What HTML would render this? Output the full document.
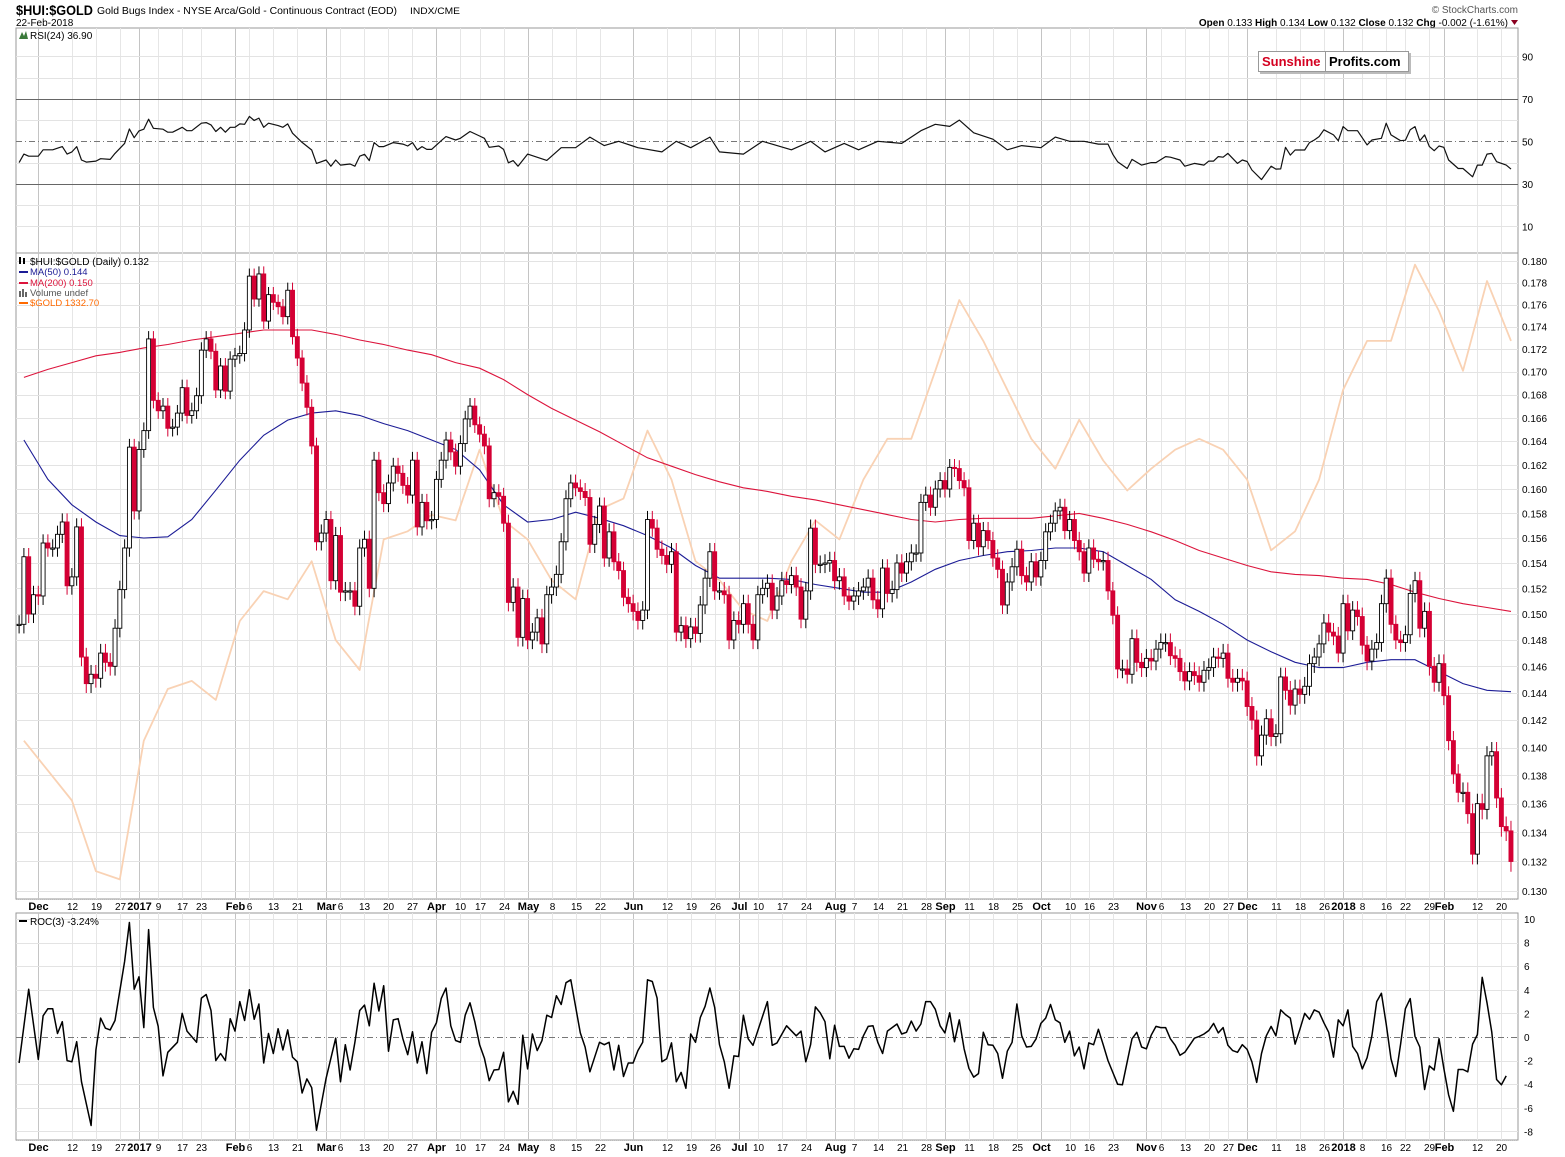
<!DOCTYPE html>
<html><head><meta charset="utf-8"><title>$HUI:$GOLD chart</title>
<style>
html,body{margin:0;padding:0;background:#fff;}
#wrap{position:relative;width:1565px;height:1157px;overflow:hidden;font-family:"Liberation Sans",sans-serif;}
svg text{font-family:"Liberation Sans",sans-serif;}
</style></head>
<body>
<div id="wrap">
<svg id="chart" width="1565" height="1157" viewBox="0 0 1565 1157" xmlns="http://www.w3.org/2000/svg">
  <rect x="0" y="0" width="1565" height="1157" fill="#fff"/>
  <text x="16" y="15" font-size="14" font-weight="bold" fill="#000" textLength="77" lengthAdjust="spacingAndGlyphs">$HUI:$GOLD</text>
  <text x="97" y="14" font-size="10.5" fill="#000" textLength="300" lengthAdjust="spacingAndGlyphs">Gold Bugs Index - NYSE Arca/Gold - Continuous Contract (EOD)</text>
  <text x="410" y="14" font-size="9.5" fill="#000" textLength="50" lengthAdjust="spacingAndGlyphs">INDX/CME</text>
  <text x="16" y="26" font-size="10" fill="#000">22-Feb-2018</text>
  <text x="1518" y="13" font-size="10" fill="#555" text-anchor="end">© StockCharts.com</text>
  <text x="1508" y="26" font-size="10" fill="#000" text-anchor="end"><tspan font-weight="bold">Open</tspan> 0.133  <tspan font-weight="bold">High</tspan> 0.134  <tspan font-weight="bold">Low</tspan> 0.132  <tspan font-weight="bold">Close</tspan> 0.132  <tspan font-weight="bold">Chg</tspan> -0.002 (-1.61%)</text>
  <path d="M1511 20 L1518 20 L1514.5 25 Z" fill="#8b0020"/>
  <g id="grid"></g>
  <g id="series"></g>
  <g id="overlay"></g>
</svg>
</div>
<script>
// ---------- DATA ----------
const closes = [
0.1492,0.1545,0.1500,0.1515,0.1514,0.1556,0.1552,0.1552,0.1563,0.1573,
0.1522,0.1529,0.1569,0.1467,0.1447,0.1454,0.1451,0.1470,0.1463,0.1460,
0.1489,0.1519,0.1552,0.1635,0.1582,0.1633,0.1649,0.1729,0.1675,0.1666,
0.1670,0.1651,0.1652,0.1664,0.1686,0.1662,0.1666,0.1679,0.1719,0.1729,
0.1718,0.1684,0.1705,0.1683,0.1711,0.1714,0.1716,0.1737,0.1786,0.1765,
0.1788,0.1745,0.1769,0.1762,0.1758,0.1749,0.1773,0.1731,0.1712,0.1690,
0.1669,0.1636,0.1557,0.1564,0.1575,0.1526,0.1562,0.1517,0.1518,0.1518,
0.1506,0.1552,0.1559,0.1520,0.1624,0.1597,0.1588,0.1605,0.1619,0.1613,
0.1603,0.1595,0.1624,0.1569,0.1589,0.1574,0.1575,0.1608,0.1624,0.1641,
0.1631,0.1619,0.1638,0.1659,0.1670,0.1654,0.1646,0.1636,0.1592,0.1597,
0.1594,0.1572,0.1509,0.1521,0.1482,0.1512,0.1480,0.1486,0.1497,0.1477,
0.1515,0.1521,0.1531,0.1557,0.1592,0.1605,0.1601,0.1598,0.1593,0.1555,
0.1571,0.1586,0.1544,0.1565,0.1541,0.1534,0.1513,0.1508,0.1502,0.1495,
0.1503,0.1575,0.1568,0.1551,0.1546,0.1539,0.1549,0.1486,0.1491,0.1481,
0.1490,0.1485,0.1507,0.1528,0.1549,0.1518,0.1518,0.1515,0.1480,0.1495,
0.1492,0.1508,0.1492,0.1480,0.1515,0.1520,0.1524,0.1503,0.1514,0.1526,
0.1523,0.1530,0.1521,0.1496,0.1518,0.1568,0.1539,0.1539,0.1540,0.1542,
0.1526,0.1529,0.1514,0.1510,0.1514,0.1518,0.1521,0.1528,0.1511,0.1504,
0.1536,0.1516,0.1519,0.1540,0.1532,0.1541,0.1548,0.1548,0.1589,0.1595,
0.1585,0.1600,0.1607,0.1600,0.1618,0.1617,0.1607,0.1601,0.1558,0.1572,
0.1553,0.1566,0.1558,0.1544,0.1535,0.1507,0.1525,0.1537,0.1551,0.1530,
0.1525,0.1541,0.1529,0.1542,0.1565,0.1572,0.1582,0.1585,0.1566,0.1575,
0.1558,0.1549,0.1532,0.1552,0.1543,0.1541,0.1542,0.1518,0.1499,0.1458,
0.1458,0.1454,0.1481,0.1463,0.1459,0.1466,0.1464,0.1473,0.1478,0.1478,
0.1468,0.1466,0.1456,0.1449,0.1456,0.1453,0.1448,0.1457,0.1459,0.1467,
0.1466,0.1470,0.1451,0.1448,0.1451,0.1449,0.1430,0.1420,0.1394,0.1409,
0.1421,0.1408,0.1410,0.1452,0.1442,0.1431,0.1443,0.1439,0.1445,0.1462,
0.1467,0.1477,0.1493,0.1486,0.1483,0.1470,0.1508,0.1487,0.1503,0.1498,
0.1476,0.1464,0.1473,0.1478,0.1508,0.1528,0.1492,0.1480,0.1478,0.1484,
0.1516,0.1526,0.1489,0.1502,0.1460,0.1448,0.1462,0.1438,0.1405,0.1381,
0.1368,0.1368,0.1353,0.1325,0.1360,0.1356,0.1394,0.1397,0.1364,0.1344,
0.1341,0.1320];

const ma50 = [0.1641,0.1608,0.1587,0.1573,0.1562,0.1560,0.1561,0.1575,0.1599,0.1624,0.1645,0.1658,0.1664,0.1666,0.1662,0.1655,0.1649,0.1641,0.1633,0.1616,0.1587,0.1573,0.1575,0.1581,0.1576,0.1570,0.1562,0.1552,0.1538,0.1528,0.1528,0.1528,0.1527,0.1523,0.1520,0.1517,0.1517,0.1525,0.1535,0.1542,0.1546,0.1549,0.1550,0.1552,0.1552,0.1549,0.1538,0.1527,0.1511,0.1502,0.1492,0.1480,0.1471,0.1463,0.1459,0.1459,0.1463,0.1465,0.1465,0.1456,0.1447,0.1442,0.1441];
const ma200 = [0.1695,0.1702,0.1708,0.1714,0.1717,0.1721,0.1724,0.1728,0.1731,0.1734,0.1737,0.1737,0.1737,0.1733,0.1728,0.1724,0.1719,0.1715,0.1708,0.1703,0.1693,0.1680,0.1668,0.1658,0.1648,0.1637,0.1626,0.1619,0.1612,0.1606,0.1601,0.1598,0.1594,0.1591,0.1587,0.1583,0.1579,0.1575,0.1573,0.1575,0.1576,0.1576,0.1576,0.1578,0.1580,0.1576,0.1571,0.1565,0.1558,0.1550,0.1544,0.1538,0.1533,0.1531,0.1530,0.1528,0.1527,0.1523,0.1517,0.1512,0.1508,0.1505,0.1502];
const gold = [1184,1173,1162,1136,1133,1184,1203,1206,1199,1228,1239,1236,1250,1221,1210,1258,1261,1267,1265,1291,1265,1258,1243,1236,1269,1273,1298,1280,1250,1243,1232,1228,1250,1265,1258,1280,1295,1295,1320,1346,1331,1313,1295,1284,1302,1287,1276,1284,1291,1295,1291,1280,1254,1261,1280,1313,1331,1331,1359,1342,1320,1353,1331];
const sampleDays = Array.from({length: 63}, (_, k) => 1 + 5 * k);

const rsiDays = [0,1,2,4,5,7,9,10,11,12,13,14,16,17,19,20,22,23,24,25,26,27,28,30,31,32,34,35,36,38,39,40,41,42,43,44,45,46,47,48,49,50,51,52,54,55,56,57,59,61,62,64,65,66,67,69,70,71,72,73,74,75,76,78,80,81,82,83,84,85,86,88,89,91,92,94,96,97,98,100,101,102,103,104,106,110,113,116,119,122,125,129,134,137,140,144,146,151,155,161,165,168,172,175,179,184,188,191,194,196,199,203,206,209,213,216,219,222,225,227,228,229,231,232,234,236,237,239,240,242,243,245,247,248,249,250,251,252,254,255,256,257,259,261,262,263,264,265,266,268,269,270,271,272,274,275,276,277,279,281,282,284,285,286,288,289,290,291,292,293,294,295,296,297,298,300,301,303,304,305,306,307,308,310,311];
const rsiVals = [40,44,43,43,46,46,47.5,44,45,47.5,41.2,40.2,40.7,41.8,41.5,44.3,49,55.8,51.7,54.9,55.7,60.4,56.1,55.7,54.3,54.3,56.6,55,55,58.5,58.8,57.7,54.6,56.6,54.3,56.6,56.6,58.2,58,61.7,59.8,60.9,56.6,58.5,57.4,56.6,58.2,53.8,49.5,45.9,39.6,41.2,38.3,41.2,38.8,39.3,38.3,43,43.9,40.9,49.4,47.5,47.5,49.4,48.7,47.8,49.4,45.9,47.5,46.2,46.2,50.3,52.2,50.6,51.4,54.6,52.5,51.4,47.2,47.8,46.2,39.9,40.9,38.3,44,41,47,47,52,48,50,47,45,50,47,52,45,44,50,46,50,45,49,46,50,49,55,58,57,60,54,51,46,48,47,52,50,50,48.7,48.7,43.9,40.4,37.2,41.5,38.8,40,40,42.8,42.5,41.2,38.3,39.6,38.8,40.7,40.7,42.8,42.5,44.3,39.6,41.2,40.5,36.5,32,38.3,36.9,37,47.2,43.5,45.9,45.9,49.4,50.6,52.2,55.4,53,50.3,56.9,55,55,48.3,50.6,51.4,58.5,53,50.3,50.5,55.4,56.9,50.3,53,47.5,45.6,47.8,47.2,41.2,37.2,37.2,33.3,38.8,38.8,44,44.3,40.4,38.8,36.9];

const rocDays = [0,2,4,5,6,7,8,9,10,11,12,13,15,16,17,18,19,20,22,23,24,25,26,27,28,29,30,31,33,34,35,37,38,39,40,41,42,43,44,45,46,47,48,49,50,51,52,53,54,55,56,57,58,59,60,61,62,64,66,67,68,69,70,71,72,73,74,75,76,77,78,79,80,81,82,83,84,85,86,87,88,89,90,91,92,93,94,95,96,97,98,99,100,101,102,103,104,105,106,107,108,109,110,111,112,113,114,115,117,118,119,121,122,123,124,125,126,127,128,129,130,131,132,133,134,135,136,137,138,139,140,141,142,143,144,145,146,147,148,149,150,151,152,153,156,157,158,160,162,163,164,165,166,167,168,169,170,171,172,173,174,175,176,177,178,179,180,181,183,184,185,186,187,188,189,190,191,192,193,194,195,196,197,198,199,200,201,202,203,204,205,206,207,208,209,210,211,212,213,214,215,216,217,218,219,220,221,222,223,224,225,226,227,228,229,230,231,232,233,234,235,236,237,238,239,240,241,242,243,244,245,246,247,248,249,250,251,252,253,254,255,256,257,258,259,260,261,262,263,264,265,266,267,268,269,270,271,272,273,274,275,276,277,278,279,280,281,282,283,284,285,286,287,288,289,290,291,292,293,294,295,296,297,298,299,300,301,302,303,304,305,306,307,308,309,310,311];
const rocVals = [-2.2,4.05,-1.9,1.8,2.4,2.4,0.3,1.3,-2.0,-2.1,-0.4,-3.8,-7.5,-1.1,1.6,0.75,0.6,1.4,6.4,9.7,4.05,5.1,0.8,9.1,2.5,0.9,-3.3,-1.3,-0.45,2.0,0.5,-0.45,3.3,3.6,2.25,-2.0,-1.4,-2.0,1.55,0.5,3.0,1.4,4.0,1.5,2.8,-2.2,0.3,-1.4,0.7,-1.1,0.6,-1.7,-2.1,-4.75,-3.55,-4.3,-7.9,-3.5,-0.1,-3.8,-0.65,-2.8,-0.45,2.25,2.7,0.95,4.55,2.2,4.35,-1.2,1.45,1.55,-0.15,-1.5,0.45,-2.2,-0.4,-3.1,0.4,1.2,3.25,4.15,0.95,-0.3,-0.45,1.85,2.9,1.3,-0.65,-1.8,-3.7,-2.8,-2.75,-1.3,-5.5,-4.6,-5.7,0.15,-2.7,0.25,-1.15,-0.3,1.85,1.65,3.5,2.75,4.6,4.85,0.35,-0.85,-2.95,-0.45,-0.65,-0.45,-2.8,-0.7,-3.35,-2.2,-2.2,-1.15,-0.45,4.85,4.7,3.3,-2.1,-1.85,-0.5,-3.8,-3.0,-4.35,0.25,-0.45,1.65,2.6,4.15,2.5,-0.65,-2.1,-4.35,-1.6,-1.65,1.85,-0.15,-0.7,3.0,-0.7,-0.5,0.95,0.1,0.5,-2.1,-0.65,2.55,2.05,1.3,-1.85,1.0,-0.8,-0.8,-1.8,-1.0,-1.05,0.1,0.9,0.95,-0.45,-1.4,0.5,1.1,0.25,0.4,1.35,0.5,1.1,3.0,3.0,2.35,0.95,0.35,2.05,-0.4,1.45,-1.0,-2.65,-3.4,-3.1,0.4,-0.65,-0.7,-1.4,-3.5,-1.2,-0.45,2.8,0.1,-0.85,-0.8,-0.15,1.15,1.6,2.75,1.45,1.2,-0.45,0.5,-1.6,-0.85,-2.7,-0.5,-0.65,0.65,-0.65,-2.0,-3.0,-4.0,-4.05,-2.1,-0.15,0.4,-0.85,-1.0,0.15,0.9,0.8,0.8,-0.15,-0.7,-1.55,-1.3,-0.7,-0.1,0.05,0.25,0.55,1.15,0.35,0.8,-0.7,-1.15,-1.3,-0.65,-1.05,-2.1,-3.85,-1.4,0.1,0.9,0.1,2.3,1.9,1.6,-0.6,0.65,2.0,1.5,2.3,2.1,1.2,0.4,-1.7,1.45,0.95,2.3,-0.8,-1.4,-2.7,-1.75,0.1,3.0,3.7,1.1,-1.85,-3.35,-0.6,2.4,3.25,0.05,-0.85,-4.45,-2.45,-2.8,-0.15,-2.65,-4.9,-6.3,-2.75,-2.75,-2.95,-0.6,0.2,5.05,2.9,0.4,-3.6,-4.05,-3.3];

const axisLabels = ["Dec","12","19","27","2017","9","17","23","Feb","6","13","21","Mar","6","13","20","27","Apr","10","17","24","May","8","15","22","Jun","12","19","26","Jul","10","17","24","Aug","7","14","21","28","Sep","11","18","25","Oct","10","16","23","Nov","6","13","20","27","Dec","11","18","26","2018","8","16","22","29","Feb","12","20"];
const axisDays = [4,11,16,21,25,29,34,38,45,48,53,58,64,67,72,77,82,87,92,96,101,106,111,116,121,128,135,140,145,150,154,159,164,170,174,179,184,189,193,198,203,208,213,219,223,228,235,238,243,248,252,256,262,267,272,276,280,285,289,294,297,304,309];
const axisMajor = [1,0,0,0,1,0,0,0,1,0,0,0,1,0,0,0,0,1,0,0,0,1,0,0,0,1,0,0,0,1,0,0,0,1,0,0,0,0,1,0,0,0,1,0,0,0,1,0,0,0,0,1,0,0,0,1,0,0,0,0,1,0,0];

const priceTicks = [0.130,0.132,0.134,0.136,0.138,0.140,0.142,0.144,0.146,0.148,0.150,0.152,0.154,0.156,0.158,0.160,0.162,0.164,0.166,0.168,0.170,0.172,0.174,0.176,0.178,0.180];
const rsiTicks = [90,70,50,30,10];
const rocTicks = [10,8,6,4,2,0,-2,-4,-6,-8];

// ---------- SCALES ----------
const L = 16, R = 1518;
const xOf = i => 19.1 + i * 4.797;
const yP = p => 261 + 1936 * Math.log(0.18 / p);
const yG = g => 893 - (g - 1128) / 232 * 631;
const yR = v => 141.3 - (v - 50) * 2.125;
const yC = v => 1037 - v * 11.8;

const NS = 'http://www.w3.org/2000/svg';
const gridG = document.getElementById('grid');
const serG = document.getElementById('series');
const ovG = document.getElementById('overlay');
function mk(tag, attrs, parent) {
  const e = document.createElementNS(NS, tag);
  for (const k in attrs) e.setAttribute(k, attrs[k]);
  parent.appendChild(e);
  return e;
}

// ---------- PANEL FRAMES ----------
const panels = [[28,253,'rsi-panel'],[253,899,'price-panel'],[913,1140,'roc-panel']];
panels.forEach(p => {
  const r = mk('rect', {x: L, y: p[0], width: R - L, height: p[1] - p[0], fill: '#fff', stroke: '#999', 'stroke-width': 1}, gridG);
  
  
});

[[899,913],[1140,1157]].forEach(band => {
  const bl = mk('line', {x1: L, x2: R, y1: band[0] + 0.5, y2: band[0] + 0.5, stroke: '#bbb', 'stroke-dasharray': '1,1'}, gridG);
  
  
});
axisDays.forEach((d, k) => {
  const x = Math.round(xOf(d)) + 0.5;
  const col = axisMajor[k] ? '#c4c4c4' : '#e6e6e6';
  [[28,253],[253,899],[913,1140]].forEach(p => {
    const ln = mk('line', {x1: x, x2: x, y1: p[0], y2: p[1], stroke: col, 'stroke-width': 1}, gridG);
    
    
  });
  [910, 1151].forEach(yy => {
    const t = mk('text', {x: x, y: yy, 'font-size': axisMajor[k] ? 11 : 10, 'font-weight': axisMajor[k] ? 'bold' : 'normal', 'text-anchor': 'middle', fill: '#000'}, ovG);
    t.textContent = axisLabels[k];
    
    
  });
});

for (let v = 10; v <= 90; v += 10) {
  const y = Math.round(yR(v)) + 0.5;
  let attrs = {x1: L, x2: R, y1: y, y2: y, stroke: '#e3e3e3', 'stroke-width': 1};
  if (v === 70 || v === 30) attrs = {x1: L, x2: R, y1: y, y2: y, stroke: '#666', 'stroke-width': 1};
  if (v === 50) attrs = {x1: L, x2: R, y1: y, y2: y, stroke: '#777', 'stroke-width': 1, 'stroke-dasharray': '6,3,1,3'};
  const ln = mk('line', attrs, gridG);
  
  
}
rsiTicks.forEach(v => {
  const t = mk('text', {x: 1522, y: yR(v) + 4, 'font-size': 10, fill: '#000'}, ovG);
  t.textContent = String(v);
  
  
});

priceTicks.forEach(p => {
  const y = Math.round(yP(p)) + 0.5;
  const ln = mk('line', {x1: L, x2: R, y1: y, y2: y, stroke: '#e3e3e3', 'stroke-width': 1}, gridG);
  
  
  const t = mk('text', {x: 1522, y: yP(p) + 4, 'font-size': 10, fill: '#000'}, ovG);
  t.textContent = p.toFixed(3);
  
  
});

rocTicks.forEach(v => {
  const y = Math.round(yC(v)) + 0.5;
  const attrs = v === 0 ? {x1: L, x2: R, y1: y, y2: y, stroke: '#777', 'stroke-dasharray': '6,3,1,3'} : {x1: L, x2: R, y1: y, y2: y, stroke: '#e3e3e3'};
  const ln = mk('line', attrs, gridG);
  
  
  const t = mk('text', {x: 1524, y: yC(v) + 4, 'font-size': 10, fill: '#000'}, ovG);
  t.textContent = String(v);
  
  
});

// ---------- SERIES ----------
function polyline(days, vals, yfn, attrs, name) {
  const pts = days.map((d, k) => xOf(d).toFixed(1) + ',' + yfn(vals[k]).toFixed(1)).join(' ');
  const p = mk('polyline', Object.assign({points: pts, fill: 'none'}, attrs), serG);
  
  
  return p;
}

polyline(sampleDays, gold, yG, {stroke: '#f9d2b4', 'stroke-width': 1.8, 'stroke-linejoin': 'round'}, 'gold-price-line');
polyline(sampleDays, ma200, yP, {stroke: '#dc143c', 'stroke-width': 1.1}, 'ma200-line');
polyline(sampleDays, ma50, yP, {stroke: '#1c1c96', 'stroke-width': 1.1}, 'ma50-line');

const WICK = 0.0007;
closes.forEach((c, i) => {
  const o = i === 0 ? c : closes[i - 1];
  const up = c >= o;
  const x = xOf(i);
  const hi = Math.max(o, c) + WICK, lo = Math.min(o, c) - WICK;
  const w = mk('line', {x1: x, x2: x, y1: yP(hi), y2: yP(lo), stroke: up ? '#000' : '#d40034', 'stroke-width': 1}, serG);
  
  
  const y1 = yP(Math.max(o, c)), y2 = yP(Math.min(o, c));
  const b = mk('rect', {x: x - 2, y: y1, width: 4, height: Math.max(1.2, y2 - y1), fill: up ? '#fff' : '#d40034', stroke: up ? '#000' : '#d40034', 'stroke-width': 0.9}, serG);
  
  
});

polyline(rsiDays, rsiVals, yR, {stroke: '#111', 'stroke-width': 1.2, 'stroke-linejoin': 'round'}, 'rsi-line');
polyline(rocDays, rocVals, yC, {stroke: '#000', 'stroke-width': 1.5, 'stroke-linejoin': 'round'}, 'roc-line');

// ---------- LEGENDS ----------
function legendText(x, y, txt, col, name, size) {
  const t = mk('text', {x: x, y: y, 'font-size': size || 9.5, fill: col}, ovG);
  t.textContent = txt;
  
  
  return t;
}
legendText(30, 39, 'RSI(24) 36.90', '#000', 'rsi-legend', 10);
const rsiIcon = mk('path', {d: 'M19 39 L22 32 L24 36 L26 31 L28 39 Z', fill: '#3a7a3a'}, ovG);



legendText(30, 265, '$HUI:$GOLD (Daily) 0.132', '#000', 'price-legend', 10);
legendText(30, 275, 'MA(50) 0.144', '#1c1c96', 'ma50-legend');
legendText(30, 286, 'MA(200) 0.150', '#dc143c', 'ma200-legend');
legendText(30, 296, 'Volume undef', '#555', 'volume-legend');
legendText(30, 306, '$GOLD 1332.70', '#ff6a00', 'gold-legend');
[[272,'#1c1c96','ma50-legend-swatch'],[283,'#dc143c','ma200-legend-swatch'],[303,'#ff6a00','gold-legend-swatch']].forEach(s => {
  const l = mk('line', {x1: 19, x2: 28, y1: s[0], y2: s[0], stroke: s[1], 'stroke-width': 2}, ovG);
  
  
});
const vIcon = mk('path', {d: 'M19 297 h2 v-6 h-2z M22 297 h2 v-8 h-2z M25 297 h2 v-5 h-2z', fill: '#666'}, ovG);


const cIcon = mk('path', {d: 'M19 257 h2 v7 h-2z M23 258 h2 v6 h-2z', fill: '#000'}, ovG);



legendText(30, 925, 'ROC(3) -3.24%', '#000', 'roc-legend', 10);
const rocSw = mk('line', {x1: 19, x2: 27, y1: 921, y2: 921, stroke: '#000', 'stroke-width': 2}, ovG);



const sh = mk('rect', {x: 1260, y: 53, width: 151, height: 21, fill: '#bbb'}, ovG);


const bx = mk('rect', {x: 1258.5, y: 51.5, width: 150, height: 20, fill: '#fff', stroke: '#999'}, ovG);


const dv = mk('line', {x1: 1325.5, x2: 1325.5, y1: 51, y2: 72, stroke: '#999'}, ovG);


const s1 = mk('text', {x: 1262, y: 66, 'font-size': 13, 'font-weight': 'bold', fill: '#d40020'}, ovG);
s1.textContent = 'Sunshine';


const s2 = mk('text', {x: 1329, y: 66, 'font-size': 13, 'font-weight': 'bold', fill: '#000'}, ovG);
s2.textContent = 'Profits.com';


</script>
</body></html>
